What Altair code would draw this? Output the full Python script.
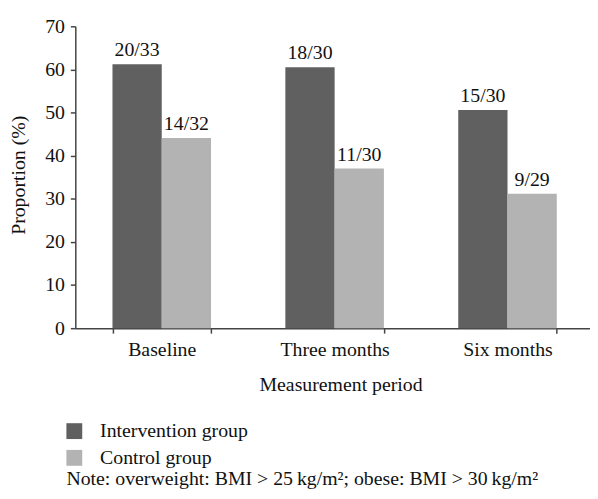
import altair as alt
import pandas as pd

periods = ["Baseline", "Three months", "Six months"]
groups = ["Intervention group", "Control group"]
intervention = [61.2, 60.5, 50.6]
control = [44.1, 37.0, 31.2]
intervention_labels = ["20/33", "18/30", "15/30"]
control_labels = ["14/32", "11/30", "9/29"]
colors = ["#606060", "#b3b3b3"]
note = "Note: overweight: BMI > 25\u2009kg/m\u00b2; obese: BMI > 30\u2009kg/m\u00b2"

rows = []
for i, p in enumerate(periods):
    rows.append({"period": p, "group": groups[0], "value": intervention[i], "label": intervention_labels[i]})
    rows.append({"period": p, "group": groups[1], "value": control[i], "label": control_labels[i]})
df = pd.DataFrame(rows)

FONT = "Liberation Serif"

x = alt.X(
    "period:N",
    sort=periods,
    scale=alt.Scale(range=[0, 524], paddingInner=0.43, paddingOuter=0.215),
    axis=alt.Axis(
        title="Measurement period",
        labelAngle=0,
        tickBand="extent",
        tickSize=5,
        labelPadding=7,
        titleX=268,
        titleY=63,
        titleBaseline="alphabetic",
        titleAlign="center",
        titleAnchor="middle",
    ),
)
xo = alt.XOffset("group:N", sort=groups, scale=alt.Scale(paddingInner=0, paddingOuter=0))
y = alt.Y(
    "value:Q",
    scale=alt.Scale(domain=[0, 70], nice=False),
    axis=alt.Axis(
        title="Proportion (%)",
        values=[0, 10, 20, 30, 40, 50, 60, 70],
        tickSize=5,
        labelPadding=6,
        grid=False,
        titleX=-57,
        titleY=150,
        titleBaseline="middle",
        titleAngle=-90,
        titleAlign="center",
    ),
)

bars = alt.Chart(df).mark_bar().encode(
    x=x,
    xOffset=xo,
    y=y,
    color=alt.Color(
        "group:N",
        sort=groups,
        scale=alt.Scale(domain=groups, range=colors),
        legend=alt.Legend(
            title=None,
            orient="none",
            legendX=-11,
            legendY=399,
            symbolType="square",
            symbolSize=256,
            symbolStrokeWidth=0,
            labelFontSize=20,
            labelFont=FONT,
            labelColor="#111",
            labelOffset=16,
            rowPadding=7,
            padding=0,
        ),
    ),
)

labels = alt.Chart(df).mark_text(
    baseline="alphabetic", dy=-8, fontSize=20, font=FONT, color="#111"
).encode(x=x, xOffset=xo, y=y, text="label:N")

note_layer = alt.Chart(pd.DataFrame({"t": [note]})).mark_text(
    align="left", baseline="alphabetic", fontSize=20, font=FONT, color="#111"
).encode(x=alt.value(-9), y=alt.value(463), text="t:N")

chart = (
    alt.layer(bars, labels, note_layer)
    .properties(
        width=520,
        height=305,
        autosize=alt.AutoSizeParams(type="none"),
        padding={"left": 68, "top": 16, "right": 0, "bottom": 162},
    )
    .configure_view(stroke=None)
    .configure_axis(
        labelFont=FONT,
        titleFont=FONT,
        labelFontSize=20,
        titleFontSize=20,
        titleFontWeight="normal",
        labelColor="#111",
        titleColor="#111",
        domainColor="#444",
        tickColor="#444",
        domainWidth=1.5,
        tickWidth=1.5,
    )
)

chart.save("out.html", embed_options={"renderer": "svg", "actions": False})
